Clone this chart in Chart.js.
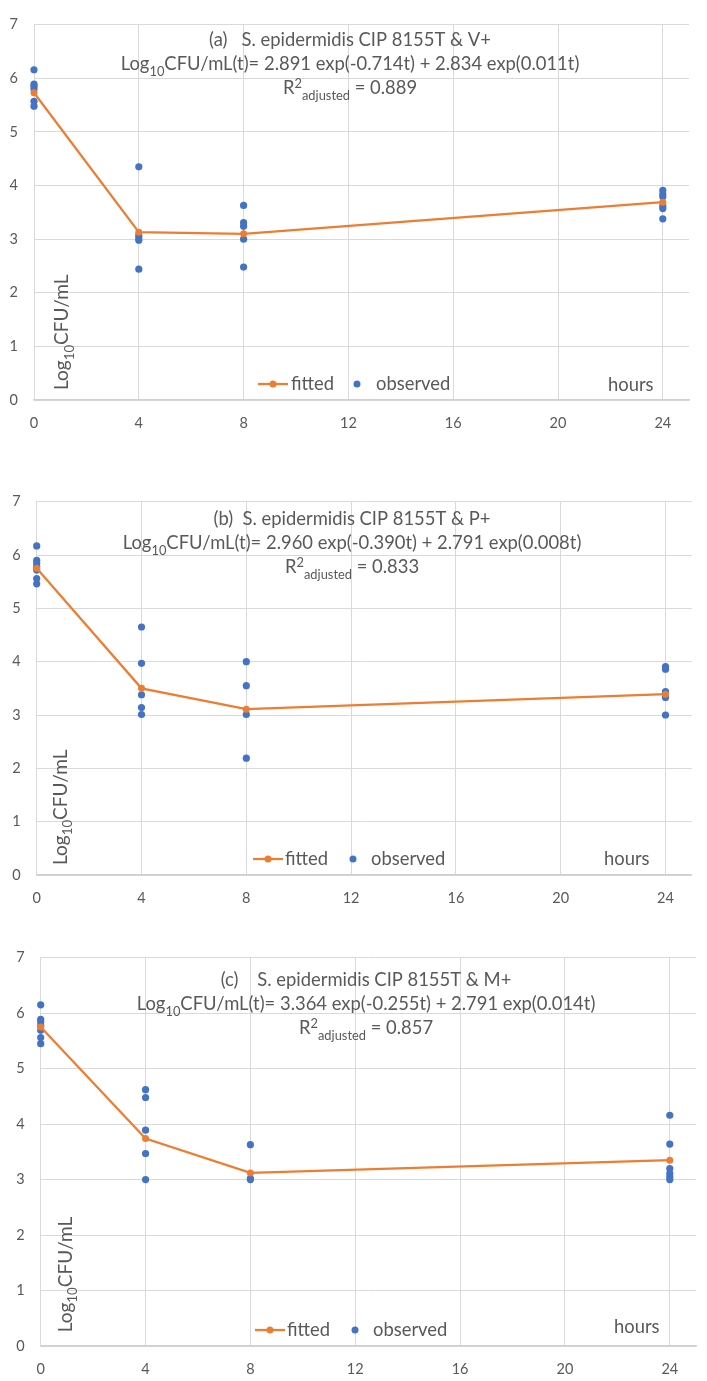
<!DOCTYPE html>
<html>
<head>
<meta charset="utf-8">
<script src="https://cdn.jsdelivr.net/npm/chart.js@4.4.1/dist/chart.umd.min.js"></script>
<style>
  body { margin: 0; background: #fff; }
  canvas { display: block; }
</style>
</head>
<body>
<canvas id="chartA" width="707" height="450"></canvas>
<canvas id="chartB" width="707" height="465"></canvas>
<canvas id="chartC" width="707" height="466"></canvas>
<script>
// sampling times (hours)
const hours = [0, 4, 8, 24];
const xTicks = [0, 4, 8, 12, 16, 20, 24];

// (a) V+
const fittedA = [5.73, 3.13, 3.10, 3.69];
const observedA = [
  [6.16, 5.89, 5.85, 5.80, 5.57, 5.48],
  [4.35, 3.07, 3.02, 2.98, 2.44],
  [3.63, 3.31, 3.24, 3.00, 2.48],
  [3.91, 3.84, 3.79, 3.62, 3.57, 3.38]
];
const titleA = [
  "(a)   S. epidermidis CIP 8155T & V+",
  "Log_{10}CFU/mL(t)= 2.891 exp(-0.714t) + 2.834 exp(0.011t)",
  "R^{2}_{adjusted} = 0.889"
];

// (b) P+
const fittedB = [5.75, 3.50, 3.11, 3.39];
const observedB = [
  [6.17, 5.90, 5.85, 5.79, 5.72, 5.56, 5.46],
  [4.65, 3.97, 3.38, 3.14, 3.01],
  [4.00, 3.55, 3.01, 2.19],
  [3.91, 3.86, 3.44, 3.33, 3.00]
];
const titleB = [
  "(b)  S. epidermidis CIP 8155T & P+",
  "Log_{10}CFU/mL(t)= 2.960 exp(-0.390t) + 2.791 exp(0.008t)",
  "R^{2}_{adjusted} = 0.833"
];

// (c) M+
const fittedC = [5.75, 3.74, 3.12, 3.35];
const observedC = [
  [6.15, 5.89, 5.84, 5.77, 5.69, 5.56, 5.45],
  [4.62, 4.48, 3.89, 3.47, 3.00],
  [3.63, 3.02, 3.00],
  [4.16, 3.64, 3.20, 3.11, 3.05, 3.00]
];
const titleC = [
  "(c)    S. epidermidis CIP 8155T & M+",
  "Log_{10}CFU/mL(t)= 3.364 exp(-0.255t) + 2.791 exp(0.014t)",
  "R^{2}_{adjusted} = 0.857"
];

const yLabel = "Log_{10}CFU/mL";
const xLabel = "hours";

const ORANGE = "#ED7D31";
const BLUE = "#4472C4";
const TEXT = "#595959";
const GRID = "#d9d9d9";
const FONT = "Lato";
const SIZE = 18.4;

function parseRich(str) {
  const parts = [];
  const re = /([_^])\{([^}]*)\}/g;
  let last = 0, m;
  while ((m = re.exec(str))) {
    if (m.index > last) parts.push({ text: str.slice(last, m.index), kind: "" });
    parts.push({ text: m[2], kind: m[1] });
    last = re.lastIndex;
  }
  if (last < str.length) parts.push({ text: str.slice(last), kind: "" });
  return parts;
}

function drawRich(ctx, str, x, y, size, align) {
  const parts = parseRich(str);
  const fontFor = k => (k ? size * 0.7 : size) + "px " + FONT;
  let total = 0;
  parts.forEach(p => {
    ctx.font = fontFor(p.kind);
    p.w = ctx.measureText(p.text).width;
    total += p.w;
  });
  let cx = align === "center" ? x - total / 2 : x;
  ctx.textAlign = "left";
  ctx.textBaseline = "alphabetic";
  parts.forEach(p => {
    ctx.font = fontFor(p.kind);
    const dy = p.kind === "_" ? size * 0.3 : p.kind === "^" ? -size * 0.33 : 0;
    ctx.fillText(p.text, cx, y + dy);
    cx += p.w;
  });
}

const panelText = {
  id: "panelText",
  afterDraw(chart, args, opts) {
    const { ctx, chartArea: area } = chart;
    const sets = chart.data.datasets;
    ctx.save();
    ctx.fillStyle = TEXT;
    opts.title.forEach((line, i) => drawRich(ctx, line, opts.titleX, area.top + opts.titleY[i], SIZE, "center"));

    // legend inside the plot
    const lg = opts.legend;
    const ly = area.bottom - 16;
    ctx.strokeStyle = sets[0].borderColor;
    ctx.lineWidth = 2.25;
    ctx.beginPath();
    ctx.moveTo(lg.line, ly);
    ctx.lineTo(lg.line + 30, ly);
    ctx.stroke();
    ctx.fillStyle = sets[0].pointBackgroundColor;
    ctx.beginPath();
    ctx.arc(lg.line + 15, ly, 3.5, 0, Math.PI * 2);
    ctx.fill();
    ctx.fillStyle = sets[1].pointBackgroundColor;
    ctx.beginPath();
    ctx.arc(lg.dot, ly, 3.5, 0, Math.PI * 2);
    ctx.fill();
    ctx.fillStyle = TEXT;
    drawRich(ctx, sets[0].label, lg.text, area.bottom - 10, SIZE, "left");
    drawRich(ctx, sets[1].label, lg.text2, area.bottom - 10, SIZE, "left");

    // axis titles
    drawRich(ctx, xLabel, opts.hoursX, area.bottom - opts.hoursDy, SIZE, "left");
    ctx.translate(area.left + opts.yLabelX, area.bottom - opts.yLabelDy);
    ctx.rotate(-Math.PI / 2);
    drawRich(ctx, yLabel, 0, 0, SIZE + 0.6, "left");
    ctx.restore();
  }
};

function makePanel(id, fitted, observed, title, layout) {
  const canvas = document.getElementById(id);
  const points = observed.flatMap((vals, i) => vals.map(v => ({ x: hours[i], y: v })));
  return new Chart(canvas.getContext("2d"), {
    type: "scatter",
    data: {
      datasets: [
        {
          label: "fitted",
          data: fitted.map((v, i) => ({ x: hours[i], y: v })),
          showLine: true,
          clip: false,
          borderColor: ORANGE,
          borderWidth: 2.25,
          pointBackgroundColor: ORANGE,
          pointBorderWidth: 0,
          pointRadius: 3.5
        },
        {
          label: "observed",
          data: points,
          clip: false,
          pointBackgroundColor: BLUE,
          pointBorderWidth: 0,
          pointRadius: 3.6
        }
      ]
    },
    options: {
      responsive: false,
      animation: false,
      layout: { padding: { top: layout.top, right: layout.right, left: 0, bottom: 0 } },
      plugins: {
        legend: { display: false },
        tooltip: { enabled: false },
        panelText: layout.text
      },
      scales: {
        x: {
          type: "linear",
          min: 0,
          max: 25,
          afterBuildTicks: s => { s.ticks = xTicks.map(v => ({ value: v })); },
          afterFit: s => { s.height = canvas.height - layout.bottom; },
          grid: { color: GRID, drawTicks: false },
          border: { color: "#d0d0d0", width: 1.5 },
          ticks: { color: TEXT, font: { family: FONT, size: 14.5 }, padding: 15 }
        },
        y: {
          min: 0,
          max: 7,
          afterFit: s => { s.width = layout.left; },
          grid: { color: GRID, drawTicks: false },
          border: { color: GRID },
          ticks: { stepSize: 1, color: TEXT, font: { family: FONT, size: 14.5 }, padding: 16 }
        }
      }
    },
    plugins: [panelText]
  });
}

makePanel("chartA", fittedA, observedA, titleA, {
  top: 13.5, right: 18, bottom: 400, left: 34,
  text: {
    title: titleA, titleX: 350, titleY: [21.5, 45.5, 69.5],
    legend: { line: 258, text: 291, dot: 357, text2: 376 },
    hoursX: 608, hoursDy: 9.3, yLabelX: 34, yLabelDy: 10
  }
});
makePanel("chartB", fittedB, observedB, titleB, {
  top: 51.7, right: 15.3, bottom: 425, left: 36.7,
  text: {
    title: titleB, titleX: 352, titleY: [23.5, 47.5, 71.5],
    legend: { line: 253, text: 285, dot: 353, text2: 371 },
    hoursX: 604, hoursDy: 10, yLabelX: 30, yLabelDy: 10
  }
});
makePanel("chartC", fittedC, observedC, titleC, {
  top: 42.7, right: 11, bottom: 431, left: 40.7,
  text: {
    title: titleC, titleX: 366, titleY: [28.5, 52.5, 76.5],
    legend: { line: 255, text: 287, dot: 355, text2: 373 },
    hoursX: 614, hoursDy: 12.7, yLabelX: 31, yLabelDy: 13.7
  }
});
</script>
</body>
</html>
